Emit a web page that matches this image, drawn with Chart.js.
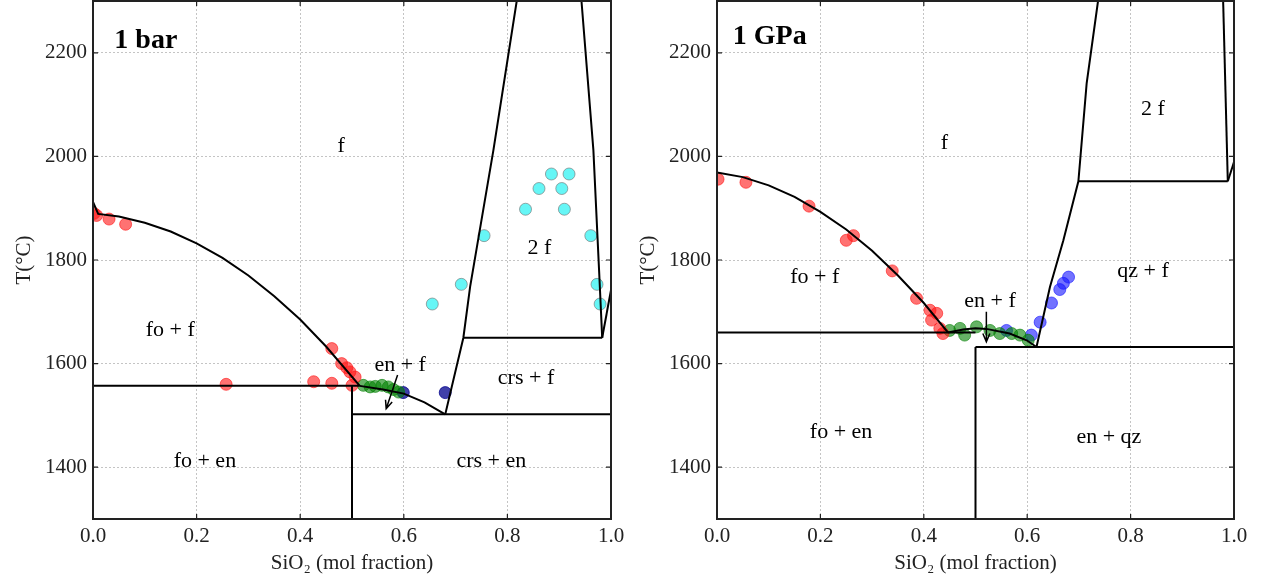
<!DOCTYPE html>
<html>
<head>
<meta charset="utf-8">
<script src="https://cdn.jsdelivr.net/npm/chart.js@4.4.1/dist/chart.umd.min.js"></script>
<style>
  body { margin: 0; background: #fff; }
  #wrap { position: relative; width: 1265px; height: 581px; }
  canvas { position: absolute; top: 0; }
</style>
</head>
<body>
<div id="wrap">
  <canvas id="chartBar" width="632" height="581" style="left:0"></canvas>
  <canvas id="chartGpa" width="633" height="581" style="left:632px"></canvas>
</div>
<script>
// axes
const xTicks = [0, 0.2, 0.4, 0.6, 0.8, 1.0];
const yTicks = [1400, 1600, 1800, 2000, 2200];

// ---- 1 bar : phase boundaries (x = SiO2 mol fraction, T in C) ----
const barFoLiqX = [0, 0.01, 0.05, 0.1, 0.15, 0.2, 0.25, 0.3, 0.35, 0.4, 0.45, 0.515];
const barFoLiqT = [1912, 1889, 1884, 1872, 1855, 1832, 1804, 1770, 1730, 1685, 1633, 1557];
const barFoEnX = [0, 0.515];
const barFoEnT = [1557, 1557];
const barEnX = [0.5, 0.5];
const barEnT = [1557, 1300];
const barEnLiqX = [0.515, 0.56, 0.6, 0.64, 0.68];
const barEnLiqT = [1557, 1550, 1542, 1525, 1502];
const barCrsEnX = [0.5, 1.0];
const barCrsEnT = [1502, 1502];
const barCrsLiqX = [0.68, 0.715, 0.728, 0.773, 0.818];
const barCrsLiqT = [1502, 1650, 1748, 2012, 2300];
const barMonoX = [0.715, 0.983];
const barMonoT = [1650, 1650];
const barSolvX = [0.943, 0.966, 0.977, 0.983];
const barSolvT = [2300, 2012, 1780, 1650];
const barSilX = [0.983, 1.0];
const barSilT = [1650, 1742];

// ---- 1 bar : experiments ----
const barRedX = [0.002, 0.007, 0.031, 0.063, 0.257, 0.426, 0.461, 0.461, 0.480, 0.490, 0.496, 0.506, 0.500];
const barRedT = [1890, 1886, 1879, 1869, 1560, 1565, 1562, 1629, 1600, 1592, 1584, 1574, 1558];
const barGreenX = [0.522, 0.535, 0.545, 0.558, 0.570, 0.580, 0.590];
const barGreenT = [1558, 1555, 1556, 1558, 1555, 1550, 1545];
const barBlueX = [0.599, 0.680];
const barBlueT = [1544, 1544];
const barCyanX = [0.885, 0.919, 0.861, 0.905, 0.835, 0.910, 0.755, 0.961, 0.711, 0.973, 0.655, 0.979];
const barCyanT = [1966, 1966, 1938, 1938, 1898, 1898, 1847, 1847, 1753, 1753, 1715, 1715];

// ---- 1 GPa : phase boundaries ----
const gpaFoLiqX = [0, 0.05, 0.1, 0.15, 0.2, 0.25, 0.3, 0.35, 0.4, 0.447];
const gpaFoLiqT = [1969, 1960, 1944, 1922, 1893, 1859, 1818, 1770, 1717, 1660];
const gpaFoEnX = [0, 0.5];
const gpaFoEnT = [1660, 1660];
const gpaEnLiqX = [0.447, 0.476, 0.5, 0.521, 0.566, 0.599, 0.618];
const gpaEnLiqT = [1660, 1666, 1668, 1667, 1658, 1645, 1632];
const gpaEnX = [0.5, 0.5];
const gpaEnT = [1632, 1300];
const gpaEnQzX = [0.5, 1.0];
const gpaEnQzT = [1632, 1632];
const gpaQzLiqX = [0.618, 0.644, 0.670, 0.699, 0.715, 0.737];
const gpaQzLiqT = [1632, 1748, 1838, 1952, 2141, 2300];
const gpaMonoX = [0.699, 0.988];
const gpaMonoT = [1952, 1952];
const gpaSolvX = [0.979, 0.988];
const gpaSolvT = [2300, 1952];
const gpaSilX = [0.988, 1.0];
const gpaSilT = [1952, 1989];

// ---- 1 GPa : experiments ----
const gpaRedX = [0.002, 0.056, 0.178, 0.250, 0.264, 0.339, 0.386, 0.412, 0.425, 0.415, 0.431, 0.437];
const gpaRedT = [1956, 1950, 1904, 1838, 1847, 1779, 1726, 1703, 1697, 1684, 1668, 1658];
const gpaGreenX = [0.450, 0.470, 0.479, 0.502, 0.528, 0.547, 0.570, 0.586, 0.602];
const gpaGreenT = [1664, 1668, 1655, 1671, 1664, 1658, 1658, 1655, 1645];
const gpaBlueX = [0.560, 0.608, 0.625, 0.647, 0.663, 0.670, 0.680];
const gpaBlueT = [1664, 1655, 1680, 1717, 1743, 1755, 1767];

const serif = "'Liberation Serif', 'DejaVu Serif', serif";

function pts(xs, ys) {
    return xs.map((x, i) => ({ x: x, y: ys[i] }));
}

function boundary(xs, ys) {
    return {
        type: "line",
        data: pts(xs, ys),
        borderColor: "#000",
        borderWidth: 2,
        pointRadius: 0,
        fill: false,
        tension: 0
    };
}

function dots(xs, ys, fill, edge) {
    return {
        type: "scatter",
        data: pts(xs, ys),
        backgroundColor: fill,
        borderColor: edge,
        borderWidth: 1,
        pointRadius: 6
    };
}

// labels, arrow, frame and inward ticks
function decorPlugin(title, labels, arrow) {
    return {
        id: "decor",
        afterDraw(chart) {
            const ctx = chart.ctx;
            const xs = chart.scales.x, ys = chart.scales.y;
            const a = chart.chartArea;
            ctx.save();

            // frame
            ctx.strokeStyle = "#222";
            ctx.lineWidth = 2;
            ctx.strokeRect(a.left, a.top, a.right - a.left, a.bottom - a.top);

            // ticks pointing inwards
            ctx.lineWidth = 1.2;
            ctx.beginPath();
            xTicks.forEach(v => {
                let px = xs.getPixelForValue(v);
                ctx.moveTo(px, a.bottom); ctx.lineTo(px, a.bottom - 5);
                ctx.moveTo(px, a.top); ctx.lineTo(px, a.top + 5);
            });
            yTicks.forEach(v => {
                let py = ys.getPixelForValue(v);
                ctx.moveTo(a.left, py); ctx.lineTo(a.left + 5, py);
                ctx.moveTo(a.right, py); ctx.lineTo(a.right - 5, py);
            });
            ctx.stroke();

            // panel title
            ctx.fillStyle = "#000";
            ctx.textAlign = "center";
            ctx.textBaseline = "middle";
            ctx.font = "bold 28px " + serif;
            ctx.fillText(title.text, xs.getPixelForValue(title.x), ys.getPixelForValue(title.y));

            // region labels
            ctx.font = "22px " + serif;
            labels.forEach(l => {
                ctx.fillText(l.text, xs.getPixelForValue(l.x), ys.getPixelForValue(l.y));
            });

            // arrow
            let x1 = xs.getPixelForValue(arrow.from[0]), y1 = ys.getPixelForValue(arrow.from[1]);
            let x2 = xs.getPixelForValue(arrow.to[0]), y2 = ys.getPixelForValue(arrow.to[1]);
            let ang = Math.atan2(y2 - y1, x2 - x1);
            ctx.strokeStyle = "#000";
            ctx.lineWidth = 1.5;
            ctx.beginPath();
            ctx.moveTo(x1, y1); ctx.lineTo(x2, y2);
            ctx.moveTo(x2 - 9 * Math.cos(ang - 0.4), y2 - 9 * Math.sin(ang - 0.4));
            ctx.lineTo(x2, y2);
            ctx.lineTo(x2 - 9 * Math.cos(ang + 0.4), y2 - 9 * Math.sin(ang + 0.4));
            ctx.stroke();

            ctx.restore();
        }
    };
}

function makeChart(id, datasets, yWidth, padRight, title, labels, arrow) {
    let ctx = document.getElementById(id).getContext("2d");
    return new Chart(ctx, {
        type: "scatter",
        data: { datasets: datasets },
        options: {
            responsive: false,
            animation: false,
            events: [],
            layout: { autoPadding: false, padding: { top: 1, right: padRight, left: 0, bottom: 0 } },
            plugins: { legend: { display: false }, tooltip: { enabled: false } },
            scales: {
                x: {
                    type: "linear",
                    min: 0, max: 1,
                    afterFit: s => { s.height = 62; s.paddingLeft = 0; s.paddingRight = 0; },
                    afterBuildTicks: s => { s.ticks = xTicks.map(v => ({ value: v })); },
                    grid: { color: "#c4c4c4", lineWidth: 1, drawTicks: false },
                    border: { display: false, dash: [2, 2] },
                    ticks: {
                        padding: 5,
                        color: "#222",
                        font: { family: serif, size: 21 },
                        callback: v => v.toFixed(1)
                    },
                    title: {
                        display: true,
                        text: "SiO₂ (mol fraction)",
                        color: "#222",
                        font: { family: serif, size: 21 },
                        padding: { top: 0, bottom: 5 }
                    }
                },
                y: {
                    type: "linear",
                    min: 1300, max: 2300,
                    afterFit: s => { s.width = yWidth; s.paddingTop = 0; s.paddingBottom = 0; },
                    afterBuildTicks: s => { s.ticks = yTicks.map(v => ({ value: v })); },
                    grid: { color: "#c4c4c4", lineWidth: 1, drawTicks: false },
                    border: { display: false, dash: [2, 2] },
                    ticks: {
                        padding: 6,
                        color: "#222",
                        font: { family: serif, size: 21 },
                        callback: v => String(v)
                    },
                    title: {
                        display: true,
                        text: "T(°C)",
                        color: "#222",
                        font: { family: serif, size: 21 },
                        padding: { top: yWidth === 93 ? 12 : 4, bottom: 0 }
                    }
                }
            }
        },
        plugins: [decorPlugin(title, labels, arrow)]
    });
}

const redFill = "rgba(255, 20, 20, 0.6)";
const greenFill = "rgba(0, 128, 0, 0.6)";
const cyanFill = "rgba(0, 240, 240, 0.6)";

makeChart("chartBar", [
    boundary(barFoLiqX, barFoLiqT),
    boundary(barFoEnX, barFoEnT),
    boundary(barEnX, barEnT),
    boundary(barEnLiqX, barEnLiqT),
    boundary(barCrsEnX, barCrsEnT),
    boundary(barCrsLiqX, barCrsLiqT),
    boundary(barMonoX, barMonoT),
    boundary(barSolvX, barSolvT),
    boundary(barSilX, barSilT),
    dots(barRedX, barRedT, redFill, redFill),
    dots(barGreenX, barGreenT, greenFill, greenFill),
    dots(barBlueX, barBlueT, "rgba(0, 0, 140, 0.75)", "rgba(0, 0, 140, 0.75)"),
    dots(barCyanX, barCyanT, cyanFill, "rgba(110, 110, 110, 0.6)")
], 93, 21,
    { text: "1 bar", x: 0.102, y: 2224 },
    [
        { text: "f", x: 0.479, y: 2020 },
        { text: "2 f", x: 0.862, y: 1822 },
        { text: "fo + f", x: 0.149, y: 1664 },
        { text: "en + f", x: 0.593, y: 1597 },
        { text: "crs + f", x: 0.836, y: 1571 },
        { text: "fo + en", x: 0.216, y: 1411 },
        { text: "crs + en", x: 0.769, y: 1411 }
    ],
    { from: [0.588, 1578], to: [0.566, 1513] }
);

makeChart("chartGpa", [
    boundary(gpaFoLiqX, gpaFoLiqT),
    boundary(gpaFoEnX, gpaFoEnT),
    boundary(gpaEnLiqX, gpaEnLiqT),
    boundary(gpaEnX, gpaEnT),
    boundary(gpaEnQzX, gpaEnQzT),
    boundary(gpaQzLiqX, gpaQzLiqT),
    boundary(gpaMonoX, gpaMonoT),
    boundary(gpaSolvX, gpaSolvT),
    boundary(gpaSilX, gpaSilT),
    dots(gpaRedX, gpaRedT, redFill, redFill),
    dots(gpaGreenX, gpaGreenT, greenFill, greenFill),
    dots(gpaBlueX, gpaBlueT, "rgba(20, 20, 255, 0.6)", "rgba(20, 20, 255, 0.6)")
], 85, 31,
    { text: "1 GPa", x: 0.102, y: 2231 },
    [
        { text: "f", x: 0.44, y: 2025 },
        { text: "2 f", x: 0.843, y: 2092 },
        { text: "fo + f", x: 0.189, y: 1766 },
        { text: "en + f", x: 0.528, y: 1720 },
        { text: "qz + f", x: 0.824, y: 1778 },
        { text: "fo + en", x: 0.240, y: 1467 },
        { text: "en + qz", x: 0.758, y: 1458 }
    ],
    { from: [0.521, 1700], to: [0.521, 1642] }
);
</script>
</body>
</html>
